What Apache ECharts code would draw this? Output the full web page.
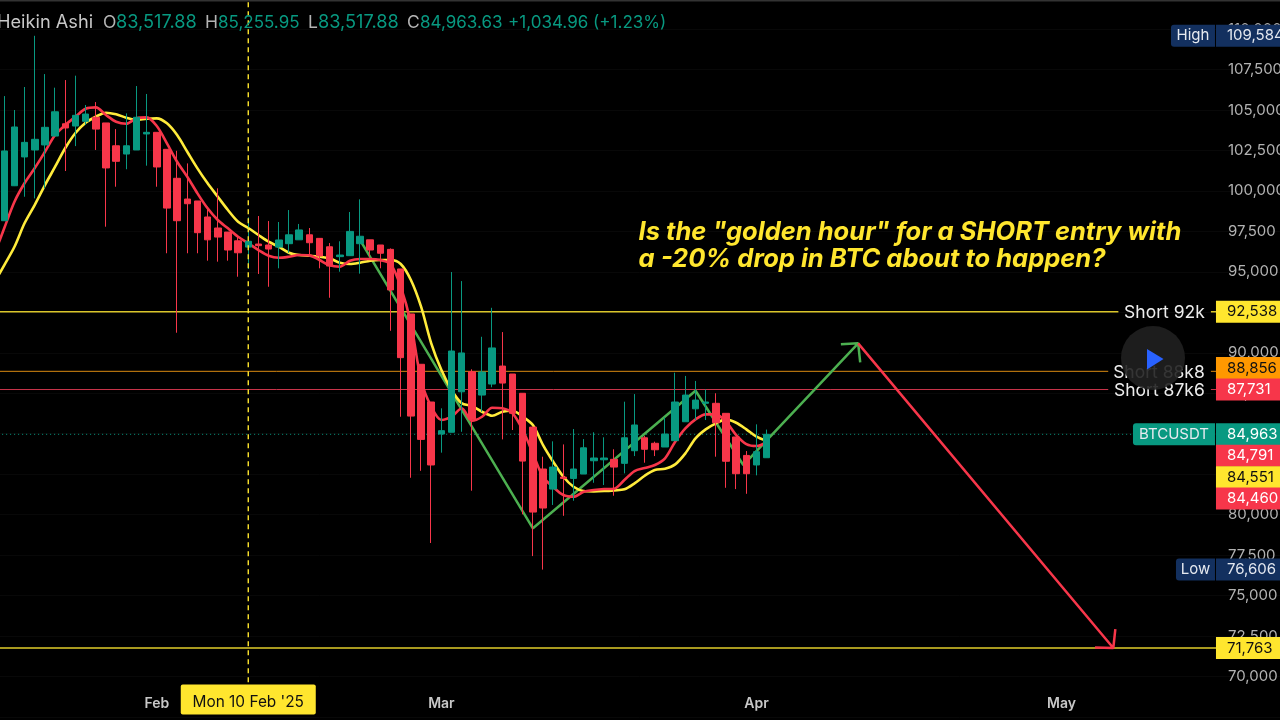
<!DOCTYPE html>
<html><head><meta charset="utf-8">
<style>html,body{margin:0;padding:0;background:#000;overflow:hidden}#c{width:1280px;height:720px}</style>
<script src="https://cdn.jsdelivr.net/npm/echarts@6/dist/echarts.min.js"></script>
</head><body><div id="c"></div>
<script>
// ---- data ----
const candleOpen=[98160,100320,102100,102530,102840,103390,104150,104010,104300,104550,104200,102790,102280,102530,103520,103620,102570,100780,99500,99380,98390,97710,97460,96920,96530,96720,96660,96530,96740,96980,97290,97070,96550,95940,96000,96740,96980,96660,96390,95180,92400,89290,86960,84980,85090,87590,88830,87390,88070,89180,88690,87500,85410,82820,81580,82320,82240,82510,83330,83390,83420,83170,83950,84750,84410,84180,84570,85740,86540,86880,86880,86260,84800,83660,83070,83517.88];
const candleClose=[102470,103950,103000,103190,103930,104890,103890,104670,104750,103820,101420,101830,102790,104550,103620,101480,98940,98160,99210,97420,96980,97150,96350,96180,96890,96620,96410,96970,97290,97590,96800,95980,95360,96040,97500,97200,96350,96150,93880,89700,86090,84650,83070,85190,90110,89990,85890,88810,90300,88130,86260,83310,80160,80410,82940,82240,82820,84130,83500,83500,82940,84750,85540,84040,84010,84980,86960,87390,87080,86960,85680,83300,82530,82530,83890,84963.63];
const candleLow=[98140,100300,99640,99540,100160,103390,101230,102770,104070,102530,97790,100260,101340,102530,101560,100260,96150,91240,96150,96150,95690,95630,95690,94700,95180,94870,94080,95220,96180,96980,95940,95220,93400,95010,96000,94890,95940,95220,91360,86050,82280,82710,78250,83830,85090,85120,81480,86360,87870,84650,85230,80020,77440,76606,80600,79930,80860,82510,81970,81830,81170,82550,83620,83210,83620,84180,84570,85740,85850,85850,83580,81660,81580,81290,82430,83517.88];
const candleHigh=[105860,105000,106420,109584,107220,106380,106850,107120,105310,105490,104200,103820,104790,106480,105990,103620,102570,102480,101700,99380,99020,100160,97460,97280,98370,98450,98140,98080,98820,97960,97710,97070,96780,96890,98700,99480,96980,96660,96450,95180,92400,89290,86960,86570,94990,94430,88980,90990,92780,91280,88690,87500,85410,83580,84530,84340,85290,84670,85090,84780,84040,86980,87450,84860,84510,86010,88770,88570,88260,87740,87500,86260,84800,83930,85580,85255.95];
// moving averages; the first value belongs to the day before the first candle
const maRed=[96040,97708,99333,100488,101415,102422,103454,104072,104584,105078,105165,104689,104275,104152,104485,104547,104010,102941,101804,100877,99852,98925,98202,97690,97171,96763,96349,95997,95873,95935,96040,96021,95731,95404,95317,95688,95793,95793,95731,95484,94082,91820,88318,86668,85847,86050,86570,85803,86050,86607,86570,86260,85229,83789,82325,81707,81213,81108,81416,81522,81583,81602,82140,82696,82881,83066,83480,84506,85334,85890,86199,86199,85742,84920,84364,84240,84460];
const maYellow=[94310,95422,96553,98017,99145,100365,101495,102650,103577,104214,104584,104832,104733,104523,104380,104461,104485,104177,103454,102422,101396,100470,99642,98820,98097,97708,97276,96862,96553,96182,96040,95997,95935,95836,95565,95484,95565,95688,95731,95731,95484,94496,92847,90585,88935,87700,86878,86711,86359,86112,86359,86421,86050,85537,84302,83270,82344,81726,81460,81441,81460,81503,81565,81936,82405,82757,82838,83109,83789,84717,85272,85643,85890,85680,85272,84815,84551];
const monthTickDates=['2025-02-01','2025-03-01','2025-04-01','2025-05-01'];
const monthTickLabels=['Feb','Mar','Apr','May'];
const levelPrices=[92538,88856,87731,71763];
const levelNames=['Short 92k','Short 88k8','Short 87k6',''];
const lastPrice=84963.63;
const greenPathDays=[35,52,68,72.7,84,82.3,84,84.2];
const greenPathPrices=[96967,79156,87657,83066,90585,90523,90585,89411];
const redPathDays=[84,109.1,107.3,109.1,109.3];
const redPathPrices=[90585,71763,71792,71763,72934];
const crosshairDay=24;
const crosshairLabel="Mon 10 Feb '25";
const priceTagTexts=['109,584','92,538','88,856','87,731','84,963','84,791','84,551','84,460','76,606','71,763'];
const priceTagLevels=[109584,92538,89059,87731,84963,83640,82307,81000,76606,71763];
const sideTagTexts=['High','BTCUSDT','Low'];
const sideTagLevels=[109584,84963,76606];
const annotationLines=['Is the "golden hour" for a SHORT entry with','a -20% drop in BTC about to happen?'];
const headerTexts=['Heikin Ashi','O','83,517.88','H','85,255.95','L','83,517.88','C','84,963.63','+1,034.96 (+1.23%)'];

// ---- styles ----
const FONT='Inter';
const GREEN='#089981', RED='#F7364A', YEL='#FFE62E', ORG='#FF9800', NAVY='#13305F';
const tagBg=[NAVY,YEL,ORG,RED,GREEN,RED,YEL,RED,NAVY,YEL];
const tagFg=['#E4E8F0','#111','#111','#fff','#fff','#fff','#111','#fff','#E4E8F0','#111'];
const sideBg=[NAVY,GREEN,NAVY], sideW=[44,82,39];
const levelColors=['#D9C52A','#D98A10','#C9344A','#E0CC2A'];
const levelWidths=[1.5,1,1,1.5];
const levelGapStart=[109.6,108.6,108.6,null], levelGapEnd=[118.7,118.7,118.7,null];
const AX_END=120, LABEL_DAY=118.1, TAG_DAY=119.2;
const headerX=[-3,103,116,205,218,308,318,407,420,508];
const headerFill=['#C8C8C8','#B4B4B4',GREEN,'#B4B4B4',GREEN,'#B4B4B4',GREEN,'#B4B4B4',GREEN,GREEN];
const headerSize=[18.2,17.5,18.2,17.5,17,17.5,18.2,17.5,17,17.05];

// ---- derived ----
const days=[];
{const d0=Date.UTC(2025,0,17);for(let i=0;i<126;i++)days.push(new Date(d0+i*864e5).toISOString().slice(0,10));}
const candles=candleOpen.map((o,i)=>[o,candleClose[i],candleLow[i],candleHigh[i]]);
const zip=(xs,ys)=>xs.map((x,i)=>[x,ys[i]]);
const maPts=a=>a.map((v,i)=>[i-1,v]);
const levelSeries=levelPrices.map((p,i)=>{
  const data=levelGapStart[i]==null?[[-1,p],[AX_END,p]]:[[-1,p],[levelGapStart[i],p],[levelGapStart[i]+1,'-'],[levelGapEnd[i],p],[AX_END,p]];
  return {type:'line',xAxisIndex:1,data,showSymbol:false,symbol:'none',z:1,silent:true,
    lineStyle:{color:levelColors[i],width:levelWidths[i]},connectNulls:false};
});
const customRows=[];
priceTagTexts.forEach((t,i)=>customRows.push({kind:'price',at:[TAG_DAY,priceTagLevels[i]],text:t,bg:tagBg[i],fg:tagFg[i]}));
sideTagTexts.forEach((t,i)=>customRows.push({kind:'side',at:[TAG_DAY,sideTagLevels[i]],text:t,bg:sideBg[i],w:sideW[i]}));
levelNames.forEach((t,i)=>{if(t)customRows.push({kind:'name',at:[LABEL_DAY,levelPrices[i]],text:t});});
customRows.push({kind:'date',at:[crosshairDay,68578],text:crosshairLabel});
annotationLines.forEach((t,i)=>customRows.push({kind:'note',at:[62.4,[97460,95790][i]],text:t}));

function renderRow(params,api){
  const r=customRows[params.dataIndex];
  const p=api.coord(r.at);
  if(r.kind==='price')return{type:'group',children:[
    {type:'rect',shape:{x:p[0],y:p[1]-11,width:66,height:22},style:{fill:r.bg}},
    {type:'text',style:{x:p[0]+11,y:p[1],text:r.text,fill:r.fg,font:'400 15px '+FONT,verticalAlign:'middle',align:'left'}}]};
  if(r.kind==='side')return{type:'group',children:[
    {type:'rect',shape:{x:p[0]-r.w-1,y:p[1]-11,width:r.w,height:22,r:[3,0,0,3]},style:{fill:r.bg}},
    {type:'text',style:{x:p[0]-1-r.w/2,y:p[1],text:r.text,fill:'#E6EAF0',font:'400 15px '+FONT,verticalAlign:'middle',align:'center'}}]};
  if(r.kind==='name')return{type:'text',style:{x:p[0],y:p[1]+1,text:r.text,fill:'#EDEDED',font:'400 17.5px '+FONT,verticalAlign:'middle',align:'right'}};
  if(r.kind==='date')return{type:'group',children:[
    {type:'rect',shape:{x:p[0]-67.5,y:p[1]-15,width:135,height:30,r:2},style:{fill:YEL}},
    {type:'text',style:{x:p[0],y:p[1]+3,text:r.text,fill:'#111',font:'400 15.4px '+FONT,verticalAlign:'middle',align:'center'}}]};
  return{type:'text',style:{x:p[0],y:p[1],text:r.text,fill:YEL,font:'italic 700 25.5px '+FONT,verticalAlign:'middle',align:'left'}};
}

const chart=echarts.init(document.getElementById('c'),null,{renderer:'canvas'});
chart.setOption({
  animation:false,backgroundColor:'#000',
  grid:{left:-0.78,width:1280.8,top:-11.4,height:728.4,containLabel:false,outerBoundsMode:'none'},
  xAxis:[
    {type:'category',data:days,boundaryGap:true,axisLine:{show:false},axisTick:{show:false},splitLine:{show:false},
     axisLabel:{inside:true,margin:6,color:'#C8C8C8',fontFamily:FONT,fontSize:14,fontWeight:600,
       interval:(i,v)=>monthTickDates.includes(v),
       formatter:v=>{const k=monthTickDates.indexOf(v);return k<0?'':monthTickLabels[k];}}},
    {type:'value',show:false,min:-0.5,max:125.5,splitLine:{show:false}}
  ],
  yAxis:{type:'value',position:'right',min:67500,max:112500,interval:2500,scale:true,
    axisLine:{show:false},axisTick:{show:false},
    splitLine:{show:true,lineStyle:{color:'#080808',width:1}},
    axisLabel:{inside:true,margin:52,align:'left',color:'#B2B2B2',fontFamily:FONT,fontSize:15,showMinLabel:false,showMaxLabel:false,
      padding:[0,0,3,0],formatter:v=>Number(v).toLocaleString('en-US')}},
  series:[
    ...levelSeries,
    {type:'line',xAxisIndex:1,data:[[-1,lastPrice],[AX_END,lastPrice]],symbol:'none',z:1,
      lineStyle:{color:GREEN,width:1,type:[1,3]}},
    {type:'line',xAxisIndex:1,data:zip(greenPathDays,greenPathPrices),symbol:'none',z:2,lineStyle:{color:'#4CAF50',width:2.5}},
    {type:'line',xAxisIndex:1,data:zip(redPathDays,redPathPrices),symbol:'none',z:2,lineStyle:{color:RED,width:2.5}},
    {type:'line',xAxisIndex:1,data:maPts(maYellow),symbol:'none',smooth:0.3,z:3,lineStyle:{color:'#FFEB3B',width:2.6}},
    {type:'line',xAxisIndex:1,data:maPts(maRed),symbol:'none',smooth:0.3,z:3,lineStyle:{color:RED,width:2.6}},
    {type:'candlestick',xAxisIndex:0,data:candles,barWidth:7,z:4,
      itemStyle:{color:GREEN,color0:RED,borderColor:GREEN,borderColor0:RED,borderWidth:1}},
    {type:'line',xAxisIndex:1,data:[[crosshairDay,111650],[crosshairDay,69475]],symbol:'none',z:5,
      lineStyle:{color:YEL,width:1.4,type:[5,4]}},
    {type:'custom',xAxisIndex:1,z:6,data:customRows.map(r=>r.at),renderItem:renderRow,clip:false}
  ],
  graphic:[
    {type:'rect',z:49,shape:{x:0,y:0,width:1280,height:1.5},style:{fill:'#333'}},
    ...headerTexts.map((t,i)=>({type:'text',z:50,x:headerX[i],y:23,style:{text:t,fill:headerFill[i],font:`400 ${headerSize[i]}px ${FONT}`,verticalAlign:'middle'}})),
    {type:'circle',z:60,shape:{cx:1153,cy:358,r:32},style:{fill:'rgba(32,32,32,0.9)'}},
    {type:'polygon',z:61,shape:{points:[[1147,349],[1163.5,359],[1147,369.5]]},style:{fill:'#2962FF'}}
  ]
});
</script></body></html>
